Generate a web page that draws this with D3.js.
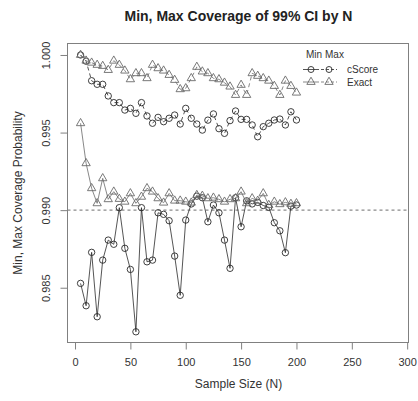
<!DOCTYPE html>
<html>
<head>
<meta charset="utf-8">
<script src="https://cdn.jsdelivr.net/npm/d3@7"></script>
<style>
  html, body { margin: 0; padding: 0; background: #fff; }
  svg { display: block; font-family: "Liberation Sans", Arial, sans-serif; }
</style>
</head>
<body>
<svg id="chart" width="418" height="401"></svg>
<script>
// Sample sizes
const sampleSizes = [5, 10, 15, 20, 25, 30, 35, 40, 45, 50, 55, 60, 65, 70, 75, 80, 85, 90, 95, 100,
  105, 110, 115, 120, 125, 130, 135, 140, 145, 150, 155, 160, 165, 170, 175, 180, 185, 190, 195, 200];

// Minimum coverage probability per N
const minScore = [0.98528, 0.98384, 0.98728, 0.98313, 0.98678, 0.98807, 0.98780, 0.99016, 0.98754, 0.98618,
  0.98216, 0.99016, 0.98667, 0.98678, 0.98983, 0.98973, 0.98932, 0.98704, 0.98451, 0.98936,
  0.99040, 0.99090, 0.99080, 0.98925, 0.99033, 0.98983, 0.98807, 0.98625, 0.99080, 0.98893,
  0.99060, 0.99040, 0.99050, 0.99030, 0.99018, 0.98919, 0.98867, 0.98726, 0.99026, 0.99033];
const minExact = [0.99560, 0.99302, 0.99141, 0.99044, 0.99205, 0.99070, 0.99119, 0.99072, 0.99054, 0.99108,
  0.99044, 0.99086, 0.99141, 0.99119, 0.99076, 0.99048, 0.99108, 0.99061, 0.99061, 0.99054,
  0.99048, 0.99097, 0.99092, 0.99076, 0.99080, 0.99070, 0.99054, 0.99070, 0.99076, 0.99119,
  0.99044, 0.99076, 0.99060, 0.99108, 0.99033, 0.99054, 0.99038, 0.99050, 0.99040, 0.99044];

// Maximum coverage probability per N
const maxScore = [1.00000, 0.99960, 0.99834, 0.99811, 0.99811, 0.99736, 0.99693, 0.99693, 0.99645, 0.99656,
  0.99624, 0.99693, 0.99607, 0.99560, 0.99598, 0.99570, 0.99592, 0.99613, 0.99555, 0.99656,
  0.99592, 0.99555, 0.99516, 0.99580, 0.99620, 0.99525, 0.99495, 0.99577, 0.99639, 0.99585,
  0.99585, 0.99549, 0.99473, 0.99538, 0.99560, 0.99581, 0.99587, 0.99549, 0.99634, 0.99581];
const maxExact = [1.00000, 0.99963, 0.99950, 0.99936, 0.99929, 0.99903, 0.99963, 0.99936, 0.99899, 0.99843,
  0.99882, 0.99882, 0.99850, 0.99936, 0.99914, 0.99899, 0.99871, 0.99839, 0.99779, 0.99785,
  0.99850, 0.99923, 0.99893, 0.99882, 0.99850, 0.99843, 0.99821, 0.99796, 0.99742, 0.99807,
  0.99742, 0.99882, 0.99865, 0.99850, 0.99834, 0.99800, 0.99742, 0.99834, 0.99800, 0.99757];

const xTicks = [0, 50, 100, 150, 200, 250, 300];
const yTicks = [0.985, 0.990, 0.995, 1.000];
const nominal = 0.99;

const titleText = "Min, Max Coverage of 99% CI by N";
const xLabel = "Sample Size (N)";
const yLabel = "Min, Max Coverage Probability";

// Plot region
const box = { left: 67.5, right: 408.5, top: 43.5, bottom: 342.5 };
const x = d3.scaleLinear().domain([-6.8, 301.2]).range([box.left, box.right]);
const y = d3.scaleLinear().domain([0.98147, 1.00074]).range([box.bottom, box.top]);

const svg = d3.select("#chart");
const axisCol = "#808080";
const textCol = "#333";

// Title
svg.append("text").attr("x", 238.5).attr("y", 20.5)
  .attr("text-anchor", "middle").attr("font-size", 14).attr("font-weight", "bold")
  .attr("fill", "#222").text(titleText);

// Reference line at the nominal level
svg.append("line")
  .attr("x1", box.left).attr("x2", box.right)
  .attr("y1", y(nominal)).attr("y2", y(nominal))
  .attr("stroke", "#8a8a8a").attr("stroke-width", 1.4).attr("stroke-dasharray", "3,3");

// Series
const series = [
  { values: minScore, shape: "circle", dash: null, col: "#2a2a2a" },
  { values: maxScore, shape: "circle", dash: "4,3", col: "#2a2a2a" },
  { values: minExact, shape: "triangle", dash: null, col: "#6a6a6a" },
  { values: maxExact, shape: "triangle", dash: "4,3", col: "#6a6a6a" }
];

const line = d3.line().x(d => x(d[0])).y(d => y(d[1]));
const triSym = d3.symbol().type(d3.symbolTriangle).size(30);

series.forEach(s => {
  const pts = sampleSizes.map((n, i) => [n, s.values[i]]);
  svg.append("path").datum(pts)
    .attr("d", line).attr("fill", "none")
    .attr("stroke", s.col).attr("stroke-width", 0.8)
    .attr("stroke-dasharray", s.dash);
  const g = svg.append("g");
  if (s.shape === "circle") {
    g.selectAll("circle").data(pts).join("circle")
      .attr("cx", d => x(d[0])).attr("cy", d => y(d[1])).attr("r", 3.2)
      .attr("fill", "none").attr("stroke", s.col).attr("stroke-width", 0.9);
  } else {
    g.selectAll("path").data(pts).join("path")
      .attr("d", triSym)
      .attr("transform", d => `translate(${x(d[0])},${y(d[1])})`)
      .attr("fill", "none").attr("stroke", s.col).attr("stroke-width", 0.9);
  }
});

// Frame
svg.append("rect")
  .attr("x", box.left).attr("y", box.top)
  .attr("width", box.right - box.left).attr("height", box.bottom - box.top)
  .attr("fill", "none").attr("stroke", axisCol).attr("stroke-width", 1);

// X axis
const xAxis = d3.axisBottom(x).tickValues(xTicks).tickSize(7).tickPadding(9).tickFormat(d3.format("d"));
const gx = svg.append("g").attr("transform", `translate(0,${box.bottom})`).call(xAxis);
gx.select(".domain").attr("d", `M${x(xTicks[0])},0H${x(xTicks[xTicks.length - 1])}`).attr("stroke", axisCol);
gx.selectAll(".tick line").attr("stroke", axisCol);
gx.selectAll(".tick text").attr("font-size", 11).attr("fill", textCol)
  .attr("font-family", "Liberation Sans, Arial, sans-serif");

// Y axis
const yAxis = d3.axisLeft(y).tickValues(yTicks).tickSize(7).tickFormat(d3.format(".3f"));
const gy = svg.append("g").attr("transform", `translate(${box.left},0)`).call(yAxis);
gy.select(".domain").attr("d", `M0,${y(yTicks[0])}V${y(yTicks[yTicks.length - 1])}`).attr("stroke", axisCol);
gy.selectAll(".tick line").attr("stroke", axisCol);
gy.selectAll(".tick text")
  .attr("font-size", 11).attr("fill", textCol)
  .attr("font-family", "Liberation Sans, Arial, sans-serif")
  .attr("x", null).attr("dy", null)
  .attr("text-anchor", "middle")
  .attr("transform", "translate(-17.5,0) rotate(-90)");

// Axis titles
svg.append("text").attr("x", 238.5).attr("y", 387.5)
  .attr("text-anchor", "middle").attr("font-size", 12).attr("fill", textCol).text(xLabel);
svg.append("text").attr("transform", `translate(22,${(box.top + box.bottom) / 2}) rotate(-90)`)
  .attr("text-anchor", "middle").attr("font-size", 12).attr("fill", textCol).text(yLabel);

// Legend
const legend = svg.append("g").attr("font-size", 10).attr("fill", textCol);
legend.append("text").attr("x", 306).attr("y", 58).text("Min");
legend.append("text").attr("x", 325).attr("y", 58).text("Max");
const legendRows = [
  { label: "cScore", shape: "circle", col: "#2a2a2a", yy: 69.5 },
  { label: "Exact", shape: "triangle", col: "#6a6a6a", yy: 82 }
];
legendRows.forEach(r => {
  [{ cx: 311, dash: null }, { cx: 329, dash: "3,2" }].forEach(c => {
    legend.append("line").attr("x1", c.cx - 8).attr("x2", c.cx + 8)
      .attr("y1", r.yy).attr("y2", r.yy)
      .attr("stroke", r.col).attr("stroke-width", 0.8).attr("stroke-dasharray", c.dash);
    if (r.shape === "circle") {
      legend.append("circle").attr("cx", c.cx).attr("cy", r.yy).attr("r", 3)
        .attr("fill", "none").attr("stroke", r.col).attr("stroke-width", 0.9);
    } else {
      legend.append("path").attr("d", triSym)
        .attr("transform", `translate(${c.cx},${r.yy})`)
        .attr("fill", "none").attr("stroke", r.col).attr("stroke-width", 0.9);
    }
  });
  legend.append("text").attr("x", 347).attr("y", r.yy + 3.5).text(r.label);
});
</script>
</body>
</html>
